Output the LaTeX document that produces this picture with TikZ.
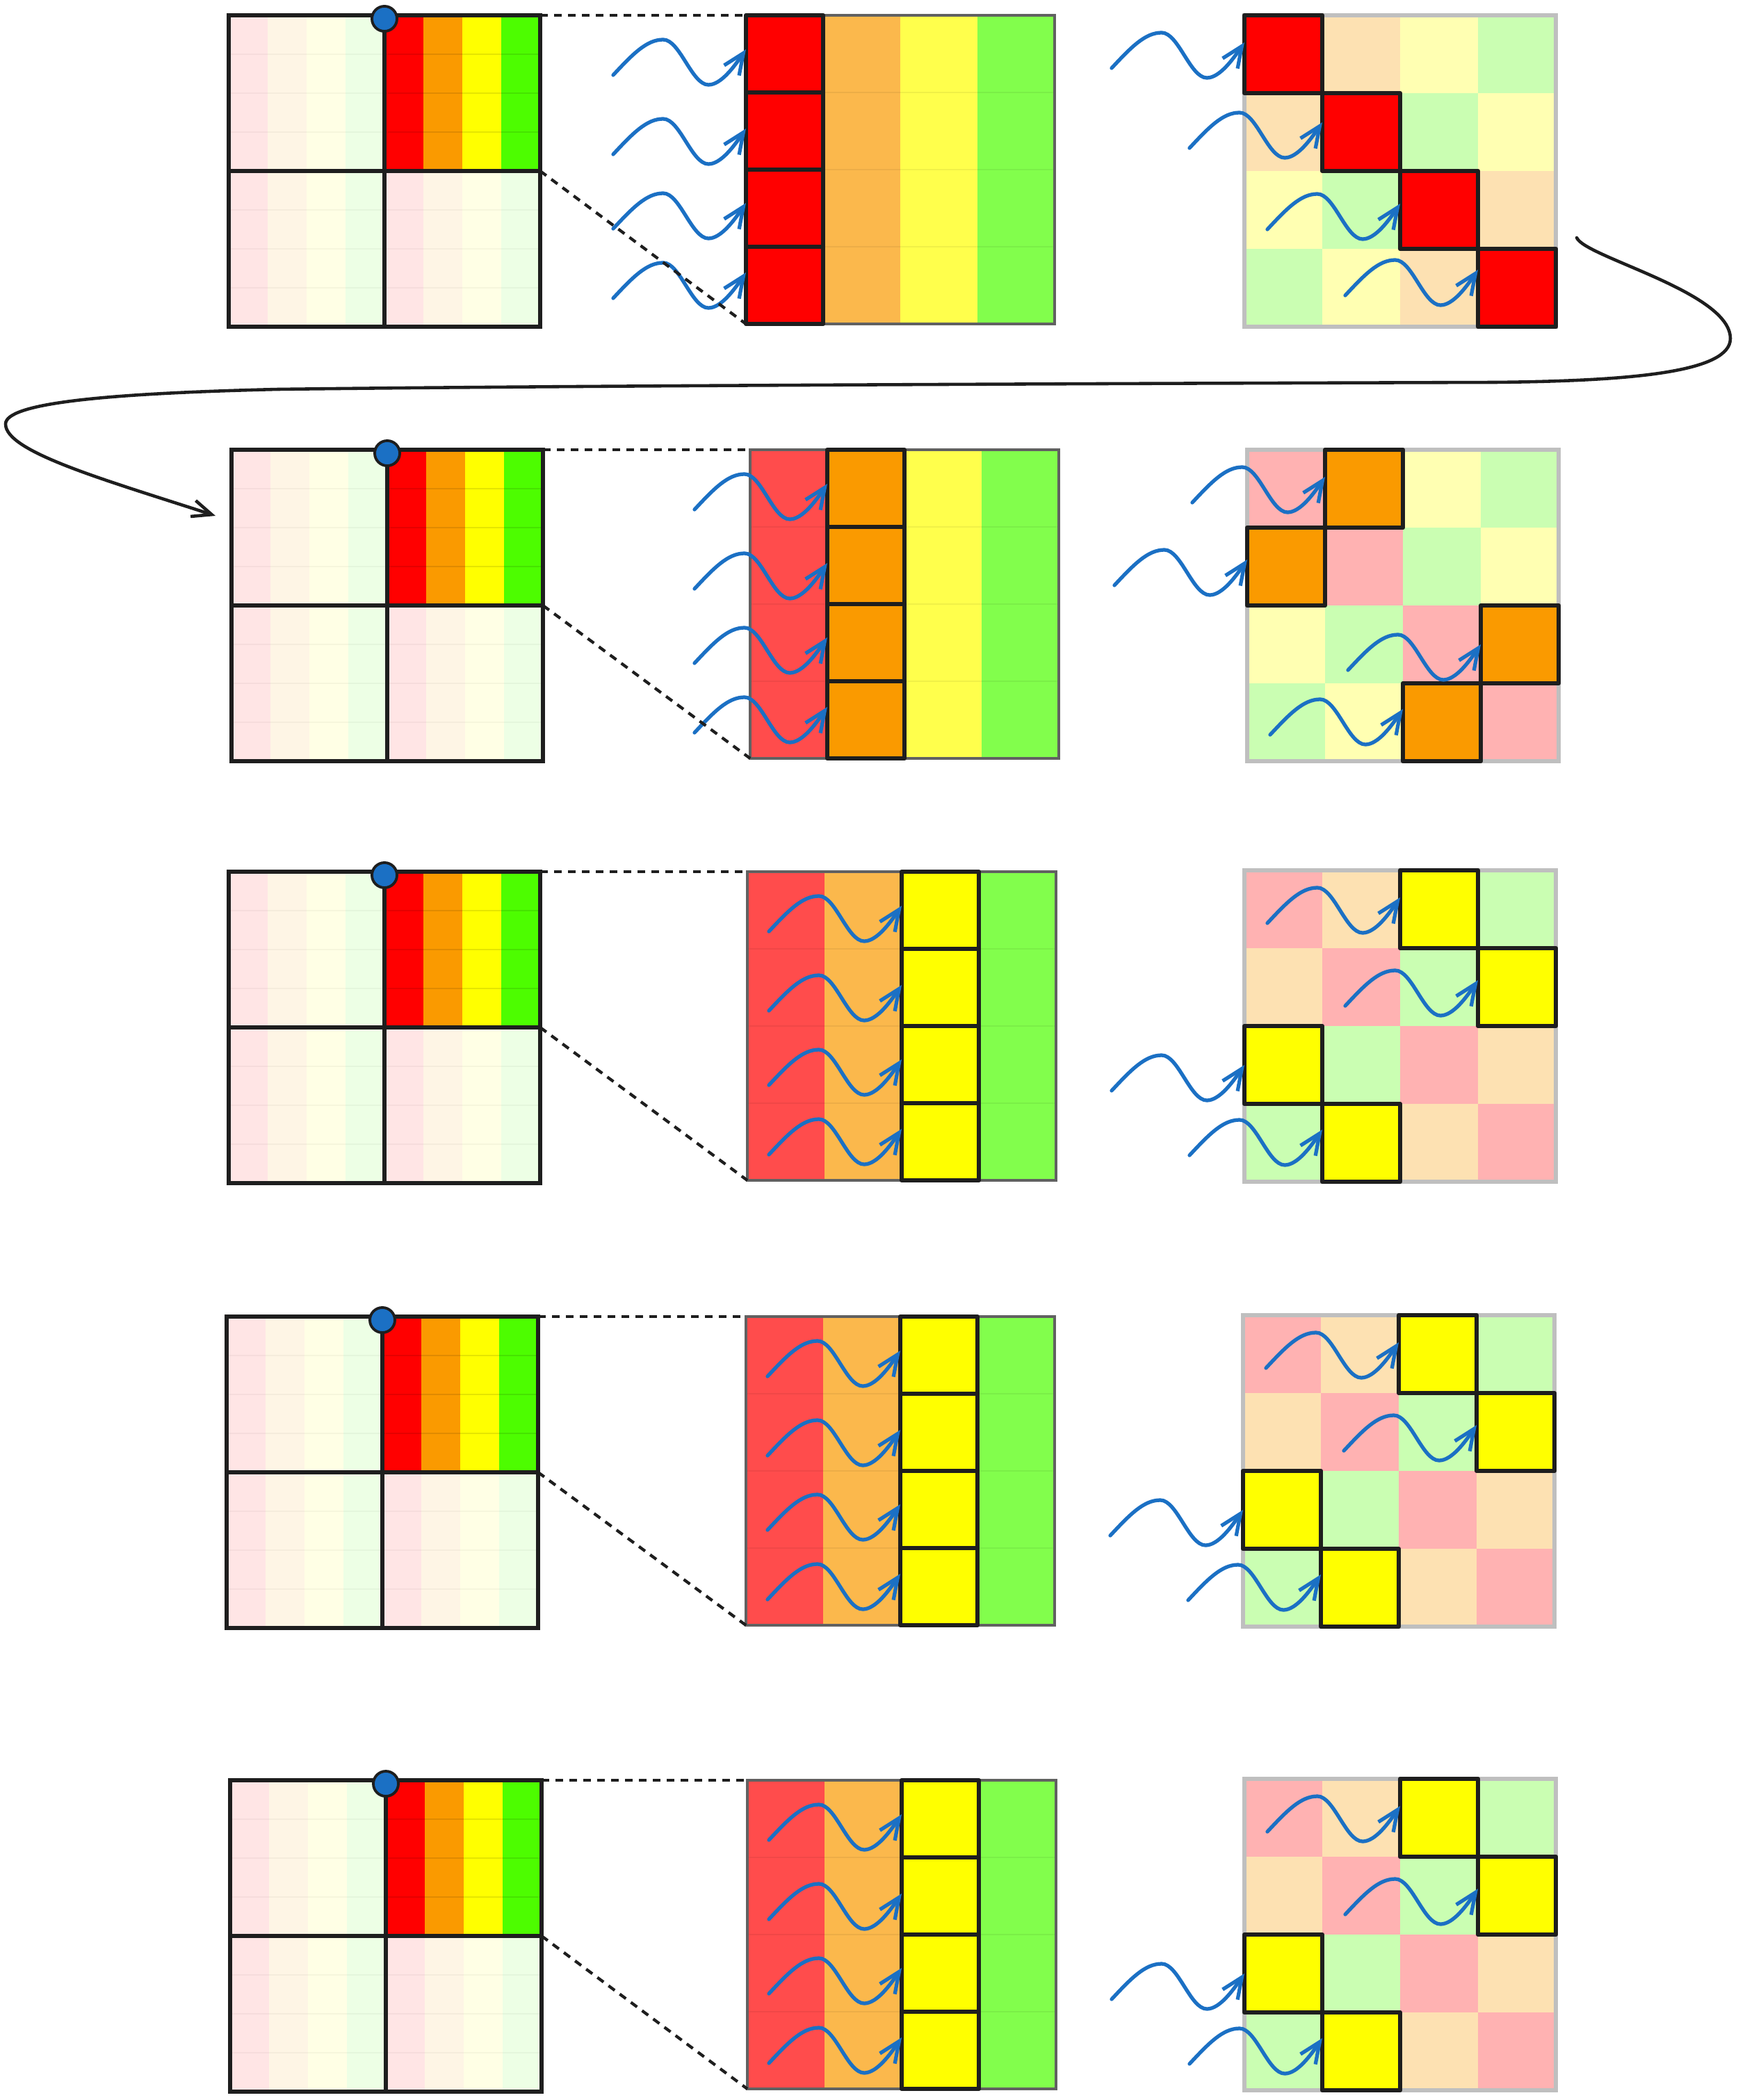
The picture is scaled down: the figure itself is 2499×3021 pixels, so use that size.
\documentclass[tikz,border=0pt]{standalone}
\usetikzlibrary{arrows.meta,calc}
\definecolor{c0}{HTML}{FF0000}
\definecolor{c1}{HTML}{FA9A00}
\definecolor{c2}{HTML}{FFFF00}
\definecolor{c3}{HTML}{4DFD00}
\definecolor{wave}{HTML}{1B70C4}
\definecolor{ink}{HTML}{1E1E1E}
\tikzset{
  hlbox/.style={draw=ink,line width=1.8pt,line join=round},
  quad/.style={draw=ink,line width=1.5pt},
  wavearrow/.style={draw=wave,line width=1.5pt,line cap=round,-{Straight Barb[length=3mm,width=2.6mm]}},
  zoomline/.style={draw=ink,line width=1.2pt,dash pattern=on 0.11cm off 0.09cm},
  flowarrow/.style={draw=ink,line width=1.3pt,line cap=round,-{Straight Barb[length=2.8mm,width=2.4mm]}},
  bluedot/.style={circle,fill=wave,draw=ink,line width=1.1pt,minimum size=0.36cm,inner sep=0pt},
  faintline/.style={draw=black,opacity=0.035,line width=0.7pt},
  midframe/.style={draw=black!62,line width=1.3pt},
  rightframe/.style={draw=black!25,line width=1.6pt},
}
% wavy arrow ending at (#1,#2)
\newcommand{\wavy}[2]{%
  \coordinate (wend) at (#1,#2);
  \draw[wavearrow] ($(wend)+(-191,37)$) .. controls ($(wend)+(-163,7)$) and ($(wend)+(-143,-14)$) .. ($(wend)+(-119,-14)$)
     .. controls ($(wend)+(-95,-14)$) and ($(wend)+(-78,51)$) .. ($(wend)+(-54,51)$)
     .. controls ($(wend)+(-36,51)$) and ($(wend)+(-17,25)$) .. (wend);}
% #1 Lx #2 Ly #3 Mx #4 My #5 Rx #6 Ry #7 k #8 name #9 right offsets list
\newcommand{\blockrow}[9]{%
  % ---- left block: three faint quadrants
  \foreach \qx/\qy in {0/0,0/224,224/224}{
    \foreach \ci in {0,...,3}{
      \fill[c\ci!10] (#1+\qx+\ci*56,#2+\qy) rectangle ++(56,224);
    }
    \foreach \ri in {1,2,3}{\draw[faintline] (#1+\qx,#2+\qy+\ri*56) -- ++(224,0);}
    \draw[quad] (#1+\qx,#2+\qy) rectangle ++(224,224);
  }
  % ---- left block: coloured quadrant
  \foreach \ci in {0,...,3}{
    \fill[c\ci] (#1+224+\ci*56,#2) rectangle ++(56,224);
  }
  \foreach \ri in {1,2,3}{\draw[draw=black,opacity=0.1,line width=0.8pt] (#1+224,#2+\ri*56) -- ++(224,0);}
  \draw[quad] (#1+224,#2) rectangle ++(224,224);
  \coordinate (#8-qtr) at (#1+448,#2);
  \coordinate (#8-qbr) at (#1+448,#2+224);
  \node[bluedot] (#8-dot) at (#1+224,#2+5) {};
  % ---- middle grid
  \foreach \ci in {0,...,3}{
    \fill[c\ci!70] (#3+\ci*111,#4) rectangle ++(111,444);
  }
  \foreach \ri in {1,2,3}{\draw[draw=black,opacity=0.06,line width=0.8pt] (#3,#4+\ri*111) -- ++(444,0);}
  \draw[midframe] (#3,#4) rectangle ++(444,444);
  \coordinate (#8-mtl) at (#3,#4);
  \coordinate (#8-mbl) at (#3,#4+444);
  \foreach \ri in {0,...,3}{
    \draw[hlbox,fill=c#7] (#3+#7*111,#4+\ri*111) rectangle ++(111,111);
  }
  \foreach \ri/\off in {0/49,1/52,2/48,3/37}{
    \wavy{#3+#7*111}{#4+\ri*111+\off}
  }
  % ---- right grid
  \foreach \ri in {0,...,3}{
    \foreach \ci in {0,...,3}{
      \pgfmathtruncatemacro{\xo}{mod(\ri+\ci,2)+2*mod(floor(\ri/2)+floor(\ci/2),2)}
      \fill[c\xo!30] (#5+\ci*112,#6+\ri*112) rectangle ++(112,112);
    }
  }
  \draw[rightframe] (#5,#6) rectangle ++(448,448);
  \foreach \ri in {0,...,3}{
    \pgfmathtruncatemacro{\hj}{mod(\ri+#7,2)+2*mod(floor(\ri/2)+floor(#7/2),2)}
    \draw[hlbox,fill=c#7] (#5+\hj*112,#6+\ri*112) rectangle ++(112,112);
  }
  \foreach \ri/\off in {#9}{
    \pgfmathtruncatemacro{\hj}{mod(\ri+#7,2)+2*mod(floor(\ri/2)+floor(#7/2),2)}
    \wavy{#5+\hj*112}{#6+\ri*112+\off}
  }
  % ---- zoom lines
  \draw[zoomline] (#8-qtr) -- (#8-mtl);
  \draw[zoomline] (#8-qbr) -- (#8-mbl);
}
\begin{document}
\begin{tikzpicture}[x=0.01cm,y=-0.01cm]
  \useasboundingbox (0,0) rectangle (2499,3021);
  \fill[white] (0,0) rectangle (2499,3021);
  \blockrow{329}{22}{1073}{22}{1790}{22}{0}{rowA}{0/39,1/42,2/47,3/30}
  \blockrow{333}{647}{1079}{647}{1794}{647}{1}{rowB}{0/39,1/46,2/56,3/37}
  \blockrow{329}{1254}{1075}{1254}{1790}{1252}{2}{rowC}{0/39,1/46,2/56,3/37}
  \blockrow{326}{1894}{1073}{1894}{1788}{1892}{2}{rowD}{0/39,1/46,2/56,3/37}
  \blockrow{331}{2561}{1075}{2561}{1790}{2559}{2}{rowE}{0/39,1/46,2/56,3/37}
  % ---- flow arrow from row 1 to row 2
  \coordinate (flowstart) at (2268,342);
  \coordinate (flowend) at (310,742);
  \draw[flowarrow] (flowstart) .. controls (2280,370) and (2489,420) .. (2489,487)
     .. controls (2489,535) and (2350,548) .. (2150,550)
     .. controls (1500,552) and (800,555) .. (400,560)
     .. controls (150,566) and (8,580) .. (8,610)
     .. controls (8,650) and (150,690) .. (flowend);
\end{tikzpicture}
\end{document}
